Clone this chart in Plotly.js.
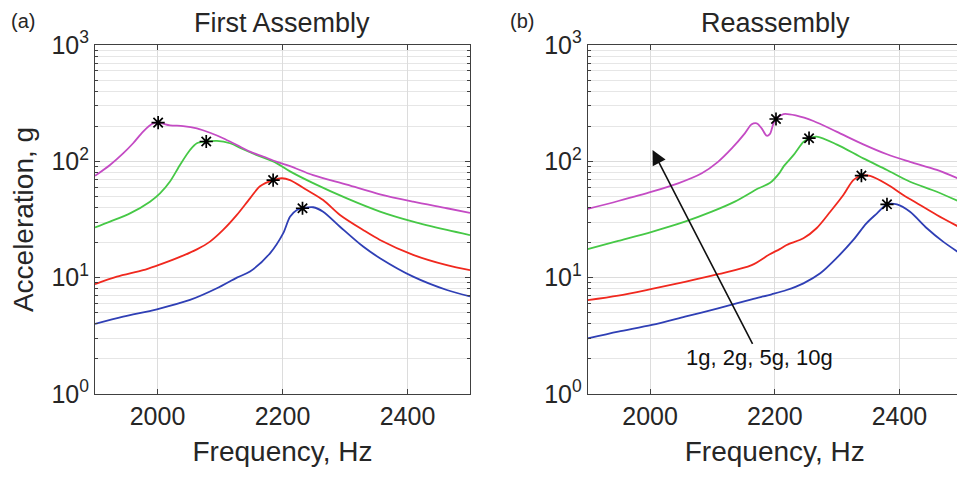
<!DOCTYPE html>
<html>
<head>
<meta charset="utf-8">
<script src="https://cdn.plot.ly/plotly-3.0.1.min.js"></script>
<style>
  html, body { margin: 0; padding: 0; background: #fff; overflow: hidden; }
  #chart { width: 966px; height: 477px; }
</style>
</head>
<body>
<div id="chart"></div>
<script>
// ---------- data ----------
const panelTitles = ["First Assembly", "Reassembly"];
const panelLetters = ["(a)", "(b)"];
const seriesNames = ["1g", "2g", "5g", "10g"];
const seriesColors = ["#2f3fb5", "#f0281e", "#46c846", "#c44bc4"];
const xTicks = [2000, 2200, 2400];

// Panel (a): First Assembly
const a1gF = [1900,1945,1999,2052,2095,2127,2148,2180,2201,2212,2223,2232,2249,2265,2292,2329,2356,2409,2463,2500];
const a1gV = [4.0,4.62,5.35,6.43,8.1,10.0,11.3,16.2,24,33.4,38.2,39.5,40.3,36.9,27.4,18.5,14.7,10.2,7.83,6.9];
const a2gF = [1900,1935,1977,1999,2031,2063,2084,2105,2127,2148,2164,2185,2199,2212,2239,2265,2292,2329,2356,2409,2463,2500];
const a2gV = [8.8,10.2,11.6,12.7,14.7,17.5,20.4,25.7,34.6,48,61,69,71.5,69,56.7,46.5,34.6,25.7,21.1,15.7,12.8,11.6];
const a5gF = [1900,1924,1956,1988,2004,2020,2036,2052,2063,2078,2095,2116,2137,2159,2191,2212,2249,2303,2356,2409,2463,2500];
const a5gV = [27,30.3,35.7,45,53,67,93,125,143,148,150,143,127,113,96,82,65,48,37,30.3,25.7,23.2];
const a10gF = [1900,1924,1945,1961,1977,1991,2001,2020,2041,2063,2084,2105,2127,2148,2169,2191,2212,2249,2303,2356,2409,2463,2500];
const a10gV = [75,93,117,143,180,209,215,204,201,192,176,158,138,121,110,99,91,76,63,52,45,39.5,36];
const aPeakF = [2232, 2185, 2078, 2001];
const aPeakV = [39.5, 69, 148, 215];

// Panel (b): Reassembly
const b1gF = [1900,1949,2003,2056,2109,2163,2195,2219,2246,2273,2299,2326,2347,2364,2380,2396,2417,2444,2470,2500];
const b1gV = [3.0,3.43,3.92,4.62,5.45,6.52,7.2,7.83,8.94,10.9,14.7,21.1,29.3,35.7,42.7,42.7,36.9,26.6,20.4,15.8];
const b2gF = [1900,1949,2003,2056,2109,2163,2192,2208,2219,2246,2267,2289,2310,2326,2339,2353,2380,2406,2433,2460,2500];
const b2gV = [6.4,7.0,8.0,9.2,10.7,12.8,15.9,17.6,19.1,21.8,26.6,36.9,51.4,69,75.3,74.8,63.5,51.4,42.2,34.6,26.5];
const b5gF = [1900,1949,2003,2056,2099,2136,2174,2192,2208,2214,2230,2246,2255,2267,2299,2342,2380,2417,2460,2500];
const b5gV = [17.6,20.7,24.8,30.3,36.9,45,58.6,65,80,90,113,147,158,163,140,106,84.3,66.8,54.8,44];
const b10gF = [1900,1949,2003,2045,2083,2109,2131,2152,2163,2171,2179,2187,2192,2198,2202,2214,2235,2262,2299,2342,2380,2417,2460,2500];
const b10gV = [39,45.6,54.8,64.7,79,99,129,174,208,212,192,166,171,212,231,255,247,222,180,140,115,99,84.3,69];
const bPeakF = [2380, 2339, 2255, 2202];
const bPeakV = [42.7, 75.3, 158, 231];

const arrowText = "1g, 2g, 5g, 10g";
const arrowHead = [2004, 125];   // frequency, acceleration
const arrowTail = [2176, 2.04];  // text position

// ---------- build ----------
const FONT = "Liberation Sans, Arial, Helvetica, sans-serif";
const TXT = "#262626";

const panels = [
  {xa: "x", ya: "y", series: [[a1gF,a1gV],[a2gF,a2gV],[a5gF,a5gV],[a10gF,a10gV]], pf: aPeakF, pv: aPeakV},
  {xa: "x2", ya: "y2", series: [[b1gF,b1gV],[b2gF,b2gV],[b5gF,b5gV],[b10gF,b10gV]], pf: bPeakF, pv: bPeakV}
];

const traces = [];
panels.forEach(p => {
  p.series.forEach((s, i) => {
    traces.push({
      type: "scatter", mode: "lines", x: s[0], y: s[1], name: seriesNames[i],
      xaxis: p.xa, yaxis: p.ya,
      line: {color: seriesColors[i], width: 1.8, shape: "spline", smoothing: 0.85}
    });
  });
  traces.push({
    type: "scatter", mode: "markers", x: p.pf, y: p.pv, xaxis: p.xa, yaxis: p.ya,
    marker: {symbol: "asterisk-open", size: 11, color: "#000", line: {color: "#000", width: 1.7}},
    showlegend: false
  });
});

const minorVals = [];
for (let d = 1; d <= 100; d *= 10) for (let k = 2; k <= 9; k++) minorVals.push(k * d);

function xAxis(domain, anchor) {
  return {
    domain: domain, anchor: anchor, range: [1900, 2500], tickvals: xTicks,
    ticktext: xTicks.map(String), ticks: "inside", ticklen: 5, tickcolor: "#404040",
    showline: true, linecolor: "#404040", linewidth: 1, mirror: "ticks",
    showgrid: true, gridcolor: "#dcdcdc", gridwidth: 1, zeroline: false,
    tickfont: {family: FONT, size: 25, color: TXT},
    title: {text: "Frequency, Hz", font: {family: FONT, size: 28, color: TXT}, standoff: 12}
  };
}
function yAxis(domain, anchor, withTitle) {
  const ax = {
    domain: domain, anchor: anchor, type: "log", range: [0, 3],
    tickmode: "array", tickvals: [1, 10, 100, 1000],
    ticktext: ["10<sup>0</sup>", "10<sup>1</sup>", "10<sup>2</sup>", "10<sup>3</sup>"],
    ticks: "inside", ticklen: 5, tickcolor: "#404040",
    showline: true, linecolor: "#404040", linewidth: 1, mirror: "ticks",
    showgrid: true, gridcolor: "#dcdcdc", gridwidth: 1, zeroline: false,
    minor: {tickmode: "array", tickvals: minorVals, ticks: "inside", ticklen: 3,
            tickcolor: "#404040", showgrid: true, gridcolor: "#e6e6e6", gridwidth: 1},
    tickfont: {family: FONT, size: 25, color: TXT}
  };
  if (withTitle) ax.title = {text: "Acceleration, g", font: {family: FONT, size: 28, color: TXT}, standoff: 9};
  return ax;
}

const yDom = [0.174, 0.9057];
const layout = {
  width: 966, height: 477,
  margin: {l: 0, r: 0, t: 0, b: 0},
  paper_bgcolor: "#fff", plot_bgcolor: "#fff",
  showlegend: false,
  xaxis: xAxis([0.09834, 0.48654], "y"),
  yaxis: yAxis(yDom, "x", true),
  xaxis2: xAxis([0.60839, 0.99565], "y2"),
  yaxis2: yAxis(yDom, "x2", false),
  annotations: [
    {text: panelTitles[0], xref: "paper", yref: "paper", x: 282/966, y: 1 - 23/477, showarrow: false,
     font: {family: FONT, size: 27, color: TXT}, xanchor: "center", yanchor: "middle"},
    {text: panelTitles[1], xref: "paper", yref: "paper", x: 775/966, y: 1 - 23/477, showarrow: false,
     font: {family: FONT, size: 27, color: TXT}, xanchor: "center", yanchor: "middle"},
    {text: panelLetters[0], xref: "paper", yref: "paper", x: 23/966, y: 1 - 21/477, showarrow: false,
     font: {family: FONT, size: 20, color: TXT}, xanchor: "center", yanchor: "middle"},
    {text: panelLetters[1], xref: "paper", yref: "paper", x: 522/966, y: 1 - 21/477, showarrow: false,
     font: {family: FONT, size: 20, color: TXT}, xanchor: "center", yanchor: "middle"},
    {text: arrowText, xref: "x2", yref: "y2", axref: "x2", ayref: "y2",
     x: arrowHead[0], y: Math.log10(arrowHead[1]),
     ax: arrowTail[0], ay: Math.log10(arrowTail[1]),
     showarrow: true, arrowhead: 2, arrowsize: 1.8, arrowwidth: 1.6, arrowcolor: "#111",
     font: {family: FONT, size: 22, color: "#111"}, bgcolor: "rgba(0,0,0,0)"}
  ]
};

Plotly.newPlot("chart", traces, layout, {staticPlot: true, displayModeBar: false});
</script>
</body>
</html>
